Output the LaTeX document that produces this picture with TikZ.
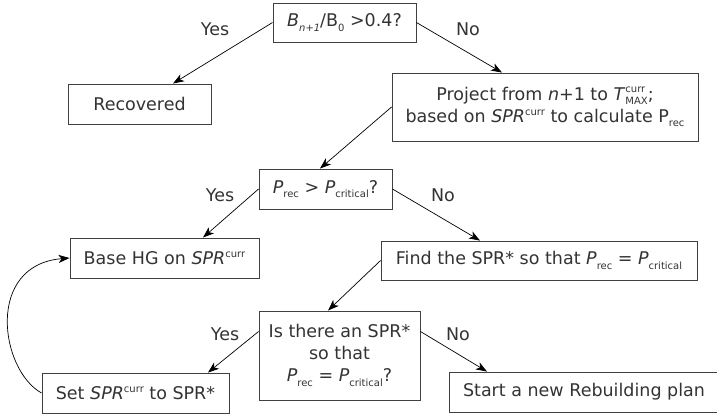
\documentclass[tikz,border=0pt]{standalone}
\usepackage{fontspec}
\setmainfont{DejaVu Sans}
\usetikzlibrary{arrows.meta}
\newcommand\lsub[1]{\raisebox{-4.5pt}{\fontsize{10}{10}\selectfont #1}}
\newcommand\lsup[1]{\raisebox{6.5pt}{\fontsize{10}{10}\selectfont #1}}
\newcommand\lsupsub[2]{\rlap{\raisebox{7.5pt}{\fontsize{10}{10}\selectfont #1}}\raisebox{-4pt}{\fontsize{10}{10}\selectfont #2}}
\begin{document}
\begin{tikzpicture}[x=1pt,y=-1pt,
  box/.style={draw=black!75, line width=0.9pt, inner sep=2pt, align=center,
    text=black!80, font=\fontsize{17.5}{22}\selectfont},
  lbl/.style={text=black!80, font=\fontsize{17.5}{22}\selectfont, inner sep=0pt},
  conn/.style={draw=black, line width=0.7pt, -{Stealth[length=11pt,width=8pt,inset=3pt]}}]
\useasboundingbox (0,0) rectangle (717,414);
\node[box, minimum width=143pt, minimum height=39pt] (q1) at (344.5,22.5)
  {\textit{B}\lsub{\itshape n+1}/B\lsub{0} >0.4?};
\node[box, minimum width=143pt, minimum height=40pt] (rec) at (139.5,104) {Recovered};
\node[box, minimum width=306pt, minimum height=68pt] (proj) at (545,107)
  {Project from \textit{n}+1 to \textit{T}\lsupsub{curr}{MAX};\\ based on \textit{SPR}\lsup{curr} to calculate P\lsub{rec}};
\node[box, minimum width=133pt, minimum height=40pt] (q2) at (325.5,189)
  {\textit{P}\lsub{rec} > \textit{P}\lsub{critical}?};
\node[box, minimum width=189pt, minimum height=40pt] (base) at (164.5,258)
  {Base HG on \textit{SPR}\lsup{curr}};
\node[box, minimum width=316pt, minimum height=39pt] (find) at (539,260.5)
  {Find the SPR* so that \textit{P}\lsub{rec} = \textit{P}\lsub{critical}};
\node[box, minimum width=161pt, minimum height=89pt] (q3) at (339.5,355.5)
  {Is there an SPR*\\ so that\\ \textit{P}\lsub{rec} = \textit{P}\lsub{critical}?};
\node[box, minimum width=187pt, minimum height=40pt] (set) at (135.5,393)
  {Set \textit{SPR}\lsup{curr} to SPR*};
\node[box, minimum width=270pt, minimum height=40pt] (start) at (584,392)
  {Start a new Rebuilding plan};
% labels
\node[lbl] (y1) at (215,29) {Yes};
\node[lbl] (n1) at (468,29) {No};
\node[lbl] (y2) at (220,195) {Yes};
\node[lbl] (n2) at (443,195) {No};
\node[lbl] (y3) at (225,334) {Yes};
\node[lbl] (n3) at (458,334) {No};
% connectors
\draw[conn] (q1.west) -- ([xshift=33.5pt]rec.north);
\draw[conn] (q1.east) -- ([xshift=-43pt]proj.north);
\draw[conn] (proj.west) -- ([xshift=-5.5pt]q2.north);
\draw[conn] (q2.west) -- ([xshift=38.5pt]base.north);
\draw[conn] (q2.east) -- ([xshift=-59pt]find.north);
\draw[conn] (find.west) -- ([xshift=-11.5pt]q3.north);
\draw[conn] ([yshift=24pt]q3.west) -- ([xshift=72.5pt]set.north);
\draw[conn] ([yshift=24pt]q3.east) -- ([xshift=-97pt]start.north);
\draw[conn] (set.west) .. controls (0,370) and (-15,265) .. (base.west);
\end{tikzpicture}
\end{document}
